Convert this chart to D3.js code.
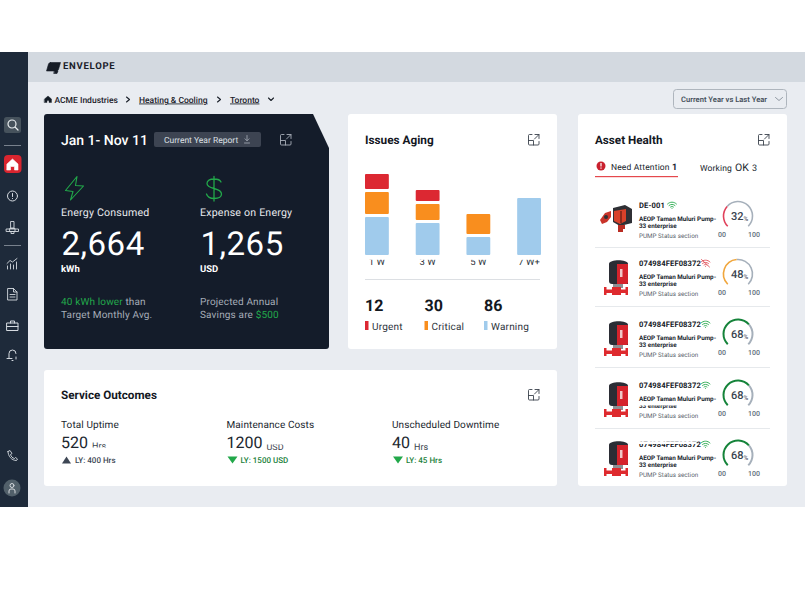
<!DOCTYPE html>
<html>
<head>
<meta charset="utf-8">
<script src="https://cdn.jsdelivr.net/npm/d3@7"></script>
<style>
  body { margin: 0; background: #fff; }
  svg { display: block; font-family: Roboto, sans-serif; text-rendering: geometricPrecision; }
</style>
</head>
<body>
<svg></svg>
<script>
const weeks = ["1 W", "3 W", "5 W", "7 W+"]
const urgent = [18, 14, 0, 0]
const critical = [25, 19, 23, 0]
const warning = [41, 35, 21, 60]

const issueTotals = [12, 30, 86]
const issueNames = ["Urgent", "Critical", "Warning"]
const issueColors = ["#dc2832", "#f98e1e", "#a0cbec"]

const assetIds = ["DE-001", "074984FEF08372", "074984FEF08372", "074984FEF08372", "074984FEF08372"]
const assetHealth = [32, 48, 68, 68, 68]
const assetColors = ["#e0405a", "#f0a63c", "#15833a", "#15833a", "#15833a"]
const assetOnline = [true, false, true, true, true]

const outcomeNames = ["Total Uptime", "Maintenance Costs", "Unscheduled Downtime"]
const outcomeValues = ["520", "1200", "40"]
const outcomeUnits = ["Hrs", "USD", "Hrs"]
const outcomeLast = ["LY: 400 Hrs", "LY: 1500 USD", "LY: 45 Hrs"]
const outcomeUp = [true, false, false]

const width = 805
const height = 593
const green = "#22a84a"
const navy = "#1e2a3a"

const svg = d3.select("svg")
  .attr("width", width)
  .attr("height", height)

function box(g, x, y, w, h, fill, r) {
  return g.append("rect").attr("x", x).attr("y", y).attr("width", w).attr("height", h)
    .attr("fill", fill).attr("rx", r || 0)
}

function label(g, x, y, str, size, fill, weight, anchor) {
  return g.append("text").attr("x", x).attr("y", y).text(str)
    .attr("font-size", size).attr("fill", fill)
    .attr("font-weight", weight || 400)
    .attr("text-anchor", anchor || "start")
}

function icon(g, x, y, d, stroke, sw, fill) {
  return g.append("path").attr("transform", `translate(${x},${y})`).attr("d", d)
    .attr("fill", fill || "none").attr("stroke", stroke).attr("stroke-width", sw || 1)
    .attr("stroke-linecap", "round").attr("stroke-linejoin", "round")
}

function expand(g, x, y, color) {
  icon(g, x, y, "M4 0.5H1.5a1 1 0 0 0-1 1V10a1 1 0 0 0 1 1H10a1 1 0 0 0 1-1V7.5M0.5 6.5H5.5V11M7 0.5H11V4.5M11 0.5L6.5 5", color, 0.9)
}

// page frame
box(svg, 0, 52, width, 455, "#e9ecf1")
box(svg, 28, 52, width - 28, 30, "#d3d9e0")
box(svg, 0, 52, 28, 455, navy)

// sidebar
const side = svg.append("g")
const sideLine = "#d5dae0"
box(side, 4, 117, 17, 16, "#46525c", 2.5)
icon(side, 7, 119, "M11 11L8 8M9 5a4 4 0 1 1-8 0a4 4 0 1 1 8 0", "#e8ecef", 1.2)
box(side, 4, 145, 17, 0.8, "#8f98a3")
box(side, 4, 155, 17.5, 18, "#d9252f", 4)
icon(side, 7, 158, "M0 6L5.5 1L11 6V12H7.5V8.5H3.5V12H0Z", "#fff", 0.6, "#fff")
icon(side, 7, 191, "M10.5 5a5 5 0 1 1-10 0a5 5 0 1 1 10 0M5.5 2.5V5.5M5.5 7.5V7.6", sideLine, 1)
icon(side, 6, 221, "M5 0.5H8V7H5ZM0.5 8H12.5V10.5H0.5ZM4 7.5H9V10.5H4ZM5 10.5V12.5H8V10.5", sideLine, 0.9)
box(side, 4, 245, 17, 0.8, "#8f98a3")
icon(side, 6.5, 258, "M0.5 5.5L3.5 2.5L6 4L10.5 0.5M1 8V11M4 6V11M7 7V11M10 4V11", sideLine, 0.9)
icon(side, 7.5, 288, "M0.5 0.5H6L9.5 4V12H0.5ZM6 0.5V4H9.5M2.5 6.5H7.5M2.5 9H7.5", sideLine, 0.9)
icon(side, 6.5, 320, "M0.5 3H11.5V10.5H0.5ZM4 3V1H8V3M0.5 6.5H11.5", sideLine, 1)
icon(side, 7, 349, "M2 9V4.5a3.5 3.5 0 0 1 7 0M0 9.5H5M9 8V10M5 11.5H6", sideLine, 1)
icon(side, 7.5, 450, "M0.5 1.5L2.5 0.5L4.5 3.5L3 4.5C3.5 6.5 5 8 7 8.5L8 7.5L10 9L9 10.5C4 10.5 0.5 6 0.5 1.5Z", sideLine, 0.9)
side.append("circle").attr("cx", 12).attr("cy", 488).attr("r", 8.5).attr("fill", "#52606a")
icon(side, 8, 483, "M6 2.5a2 2 0 1 1-4 0a2 2 0 1 1 4 0M1 10V8a2 2 0 0 1 2-2H5a2 2 0 0 1 2 2V10", "#e4e7ea", 0.9)

// header and breadcrumb
const head = svg.append("g")
icon(head, 0, 0, "M50.5 62.5H60.5L58.5 69.5Q58 71 56.5 71H46.5L48.5 64Q49 62.5 50.5 62.5ZM54.5 71H58L57 73.5H54Z", "#161c26", 0.6, "#161c26")
label(head, 63, 69, "ENVELOPE", 9.5, "#1a2029", 700).attr("letter-spacing", 0.75)
icon(head, 44.5, 95.5, "M0 3.5L3.5 0.5L7 3.5V7H4.5V5H2.5V7H0Z", "#141c26", 0.4, "#141c26")
label(head, 54.5, 102.5, "ACME Industries", 8.5, "#1a2029", 500)
icon(head, 126, 96.5, "M0.5 0.5L3.5 3L0.5 5.5", "#1a2029", 1.1)
label(head, 139, 102.5, "Heating & Cooling", 8.5, "#1a2029", 500).attr("text-decoration", "underline")
icon(head, 217, 96.5, "M0.5 0.5L3.5 3L0.5 5.5", "#1a2029", 1.1)
label(head, 230, 102.5, "Toronto", 8.5, "#1a2029", 500).attr("text-decoration", "underline")
icon(head, 268, 97.5, "M0.5 0.5L3 3L5.5 0.5", "#1a2029", 1.1)
box(head, 673.5, 89.5, 113, 19, "#e9ecf1", 3).attr("stroke", "#aeb5bd")
label(head, 681, 102, "Current Year vs Last Year", 7.6, "#46505c", 600)
icon(head, 775, 97, "M0.5 0.5L4 3.5L7.5 0.5", "#7a838e", 0.8)

// energy card
const energy = svg.append("g")
energy.append("path")
  .attr("d", "M47 114H313L329 148V346a3 3 0 0 1-3 3H47a3 3 0 0 1-3-3V117a3 3 0 0 1 3-3Z")
  .attr("fill", "#141c2a")
label(energy, 61, 145, "Jan 1- Nov 11", 14, "#fff", 500)
box(energy, 154, 132, 107, 15, "#3d4452", 2)
label(energy, 164, 143, "Current Year Report", 8.5, "#dde0e5")
icon(energy, 244, 135, "M3 0.5V5.5M1 3.8L3 5.8L5 3.8M0.5 8H5.5", "#aab0ba", 0.8)
expand(energy, 280, 134, "#a8afb9")
icon(energy, 65, 176, "M12 0.5L0.5 14.5L8 15.5L5.5 24L18.5 10L10.5 9.5Z", green, 1.1)
icon(energy, 206, 177, "M15 5C14 2.5 11.5 2 8 2C4 2 1 3.5 1 6.5C1 9.5 4 10.5 8 11.5C12 12.5 15.5 13.5 15.5 17C15.5 20 12 21.5 8 21.5C4 21.5 1.5 20 0.5 17M8 -0.5V24", green, 1.3)
label(energy, 61, 216, "Energy Consumed", 10.6, "#e8eaee").attr("letter-spacing", 0.2)
label(energy, 200, 216, "Expense on Energy", 10.6, "#e8eaee").attr("letter-spacing", 0.2)
label(energy, 61.5, 255, "2,664", 33, "#fff").attr("letter-spacing", 0.5)
label(energy, 200.5, 255, "1,265", 33, "#fff").attr("letter-spacing", 0.5)
label(energy, 61, 272, "kWh", 9.5, "#fff", 700)
label(energy, 200, 272, "USD", 9.5, "#fff", 700)
const note1 = label(energy, 61, 305, "", 10, "#a6adb8").attr("letter-spacing", 0.15)
note1.append("tspan").attr("fill", green).text("40 kWh lower")
note1.append("tspan").text(" than")
label(energy, 61, 318, "Target Monthly Avg.", 10, "#a6adb8").attr("letter-spacing", 0.15)
label(energy, 200, 305, "Projected Annual", 10, "#a6adb8").attr("letter-spacing", 0.15)
const note2 = label(energy, 200, 318, "Savings are ", 10, "#a6adb8").attr("letter-spacing", 0.15)
note2.append("tspan").attr("fill", green).text("$500")

// issues aging
const issues = svg.append("g")
box(issues, 348, 114, 209, 235, "#fff", 3)
label(issues, 365, 144, "Issues Aging", 11.8, "#14181f", 700)
expand(issues, 528, 134, "#3a424c")

const table = weeks.map((w, i) => ({ week: w, warning: warning[i], critical: critical[i], urgent: urgent[i] }))
const stack = d3.stack().keys(["warning", "critical", "urgent"])(table)
const stackColors = d3.scaleOrdinal()
  .domain(["urgent", "critical", "warning"])
  .range(issueColors)

const x = d3.scaleBand().domain(weeks).range([365, 541]).paddingInner(0.53)
const y = d3.scaleLinear().domain([0, 90]).range([255, 165])

issues.append("g")
  .attr("transform", "translate(0,264.5)")
  .call(d3.axisBottom(x).tickSize(0).tickPadding(0))
  .call(g => g.select(".domain").remove())
  .call(g => g.selectAll("text").attr("y", 0).attr("dy", 0).attr("font-size", 9.5)
    .attr("font-family", "Roboto, sans-serif").attr("fill", "#2a3038"))

// the tick labels sit partly under the plot edge
box(issues, 360, 256, 190, 3.8, "#fff")

issues.append("g")
  .selectAll("g")
  .data(stack)
  .join("g")
  .attr("fill", d => stackColors(d.key))
  .selectAll("rect")
  .data(d => d.filter(s => s[1] > s[0]))
  .join("rect")
  .attr("x", d => x(d.data.week))
  .attr("width", x.bandwidth())
  .attr("y", d => y(d[1]) + 3)
  .attr("height", d => y(d[0]) - y(d[1]) - 3)
  .attr("rx", 1)

box(issues, 365, 279, 175, 1, "#dcdfe3")

const totalX = d3.scalePoint().domain(issueNames).range([365, 484])
issueNames.forEach((name, i) => {
  const tx = totalX(name)
  label(issues, tx, 311, issueTotals[i], 16, "#14181f", 700)
  box(issues, tx, 321, 3.5, 9, issueColors[i])
  label(issues, tx + 7, 330, name, 10, "#2d333b").attr("letter-spacing", 0.2)
})

// asset health
const asset = svg.append("g")
box(asset, 578, 114, 209, 372, "#fff", 3)
label(asset, 595, 144, "Asset Health", 11.7, "#14181f", 700)
expand(asset, 758, 134, "#3a424c")
asset.append("circle").attr("cx", 601).attr("cy", 166).attr("r", 4.5).attr("fill", "#c9202e")
box(asset, 600.4, 163, 1.2, 3.5, "#fff")
box(asset, 600.4, 167.5, 1.2, 1.2, "#fff")
label(asset, 611, 170, "Need Attention", 8.5, "#20262e").attr("letter-spacing", 0.15)
label(asset, 672, 170, "1", 9, "#20262e", 700)
box(asset, 595, 176, 83, 1.2, "#e5484d")
label(asset, 700, 171, "Working", 8.5, "#20262e").attr("letter-spacing", 0.15)
label(asset, 735, 171, "OK", 10.5, "#20262e")
label(asset, 752, 171, "3", 9, "#20262e")

const rowIdY = [208, 266, 327, 388, 447]
const gaugeY = [216, 274, 334, 395, 455]
const dividerY = [247, 306, 367, 428]
const health = d3.scaleLinear().domain([0, 100]).range([-0.75 * Math.PI, 0.75 * Math.PI])

function pump(g, px, py) {
  const p = g.append("g").attr("transform", `translate(${px},${py})`)
  box(p, 9, 24, 10, 6, "#8d8f94")
  p.append("path").attr("d", "M5 6C5 1 24 1 24 6V26H8C6 26 5 25 5 23Z").attr("fill", "#2b2d35")
  p.append("path").attr("d", "M13 6H24V24C24 25.5 23.5 26 22 26H13Z").attr("fill", "#d5232c")
  box(p, 16, 11, 2.5, 8, "#f0c8c8")
  p.append("path").attr("d", "M0 29H2.5V31.5H8V29H17V31.5H21.5V29H24V37H21.5V35H17V37H8V35H2.5V37H0Z").attr("fill", "#de2a2e")
}

function pumpWide(g, px, py) {
  const p = g.append("g").attr("transform", `translate(${px},${py})`)
  p.append("path").attr("d", "M14 3L26 0L33 4V18L21 21L14 17Z").attr("fill", "#2f3035")
  p.append("path").attr("d", "M15 6L27 4V16L21 19L15 16Z").attr("fill", "#d8412a")
  box(p, 21, 6, 2, 12, "#8e2a1c")
  p.append("path").attr("d", "M1 15L6 8L12 6V12L8 17L3 19Z").attr("fill", "#c9342a")
  p.append("circle").attr("cx", 7).attr("cy", 12).attr("r", 2).attr("fill", "#2f3035")
  p.append("path").attr("d", "M19 20H26V24H24V27H19Z").attr("fill", "#b92c22")
}

function wifi(g, wx, wy, on) {
  const color = on ? green : "#e0505a"
  icon(g, wx, wy, "M0.5 2C3 -0.5 7 -0.5 9.5 2M2 3.5C3.7 2 6.3 2 8 3.5M3.5 5C4.3 4.3 5.7 4.3 6.5 5M5 6.3V6.4", color, 0.9)
  if (!on) icon(g, wx, wy, "M1 -0.5L9 7", color, 0.9)
}

assetIds.forEach((id, i) => {
  const row = asset.append("g")
  const top = rowIdY[i]
  if (i === 0) pumpWide(row, 599, top - 3)
  else pump(row, 604, top - 8)
  label(row, 639, top, id, 7.6, "#14181f", 700).attr("letter-spacing", 0.1)
  wifi(row, id.length > 8 ? 700.5 : 667, top - 6, assetOnline[i])
  label(row, 639, top + 12.5, "AEOP Taman Muluri Pump-", 6.3, "#20262e", 700)
  label(row, 639, top + 20, "33 enterprise", 6.3, "#20262e", 700)
  label(row, 639, top + 30, "PUMP Status section", 6.3, "#5c646e")

  const cy = gaugeY[i]
  const gauge = row.append("g").attr("transform", `translate(738,${cy})`)
  const thick = i > 1 ? 2 : 1.6
  const arc = d3.arc().innerRadius(14.5 - thick / 2).outerRadius(14.5 + thick / 2)
  gauge.append("path")
    .attr("d", arc({ startAngle: health(assetHealth[i]), endAngle: health(100) }))
    .attr("fill", "#a6b0bb")
  gauge.append("path")
    .attr("d", arc({ startAngle: health(0), endAngle: health(assetHealth[i]) }))
    .attr("fill", assetColors[i])
  label(gauge, -7, 4, assetHealth[i], 11, "#3a4450", 500)
  label(gauge, 5.5, 4.5, "%", 6.5, "#5a6470", 500)
  label(gauge, -16, 20.5, "00", 7, "#5d6b7a", 500, "middle")
  label(gauge, 16, 20.5, "100", 7, "#5d6b7a", 500, "middle")
})

// crops where the list rows run into each other in the source
box(asset, 636, 296.5, 60, 8, "#fff")
box(asset, 636, 403, 60, 2.5, "#fff")
box(asset, 636, 441.5, 60, 2.5, "#fff")
dividerY.forEach(dy => box(asset, 595, dy, 175, 1, "#e6e9ec"))

// service outcomes
const service = svg.append("g")
box(service, 44, 370, 513, 116, "#fff", 3)
label(service, 61, 399, "Service Outcomes", 11.7, "#14181f", 700)
expand(service, 528, 389, "#3a424c")

const outcomeX = d3.scalePoint().domain(outcomeNames).range([61, 392])
const unitY = [449, 450, 450]
outcomeNames.forEach((name, i) => {
  const ox = outcomeX(name)
  label(service, ox, 428, name, 10, "#20262e").attr("letter-spacing", 0.1)
  const val = label(service, ox, 448, outcomeValues[i], 16, "#20262e")
  const vw = val.node().getComputedTextLength()
  label(service, ox + vw + 4, unitY[i], outcomeUnits[i], 9, "#3a424c")
  if (i === 0) box(service, ox + vw + 2, 447.5, 24, 3, "#fff")
  if (i === 1) box(service, ox + vw + 2, 441, 24, 3.5, "#fff")
  const c = outcomeUp[i] ? "#3d4654" : green
  const tri = outcomeUp[i] ? "M0 7L4.5 0L9 7Z" : "M0 0L10 0L5 7Z"
  service.append("path").attr("transform", `translate(${ox + 1},${456.5})`).attr("d", tri).attr("fill", c)
  label(service, ox + 14, 463, outcomeLast[i], 8, outcomeUp[i] ? "#3d4654" : "#1b7f3b", 500)
})
</script>
</body>
</html>
